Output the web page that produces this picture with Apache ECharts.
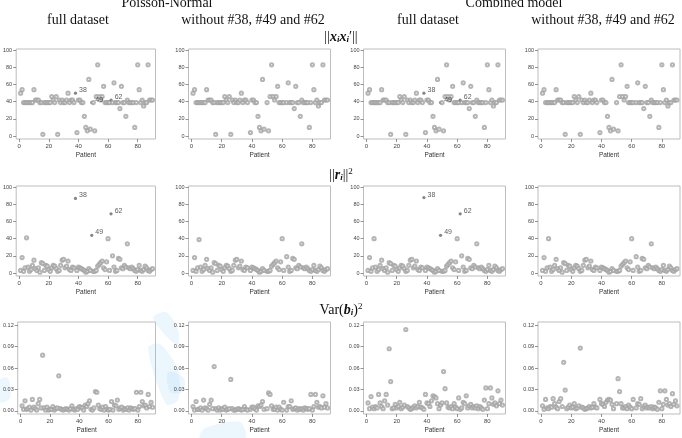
<!DOCTYPE html>
<html><head><meta charset="utf-8">
<script src="https://cdn.jsdelivr.net/npm/echarts@6/dist/echarts.min.js"></script>
<style>html,body{margin:0;padding:0;background:#fff}#c{width:682px;height:438px}</style>
</head><body><div id="c"></div>
<script>
// ---- data (patients 1..90) ----
const xTicks = [0, 20, 40, 60, 80];
const yTicks100 = [0, 20, 40, 60, 80, 100];
const yTicksVar = [0, 0.03, 0.06, 0.09, 0.12];
const labeledPatients = [38, 49, 62];
const colTitles = ['full dataset', 'without #38, #49 and #62', 'full dataset', 'without #38, #49 and #62'];
const modelTitles = ['Poisson-Normal', 'Combined model'];

const leverageFull = [50,54,39,39,39,39,39,39,39,54, 42,42,42,39,39,2,39,39,39,39, 39,46,42,39,46,2,42,39,42,39,
 39,42,50,39,42,42,39,50,4,42, 42,39,39,23,10,6,66,8,39,39, 6,46,83,46,42,46,58,39,39,39,
 39,42,39,62,39,39,39,32,58,39, 39,23,42,39,39,39,39,10,39,83, 54,39,42,35,39,39,83,42,42,42];
const leverageWithout = [50,54,39,39,39,39,39,39,39,54, 42,42,42,39,39,2,39,39,39,39, 39,46,42,39,46,2,42,39,42,39,
 39,42,50,39,42,42,39,null,4,42, 42,39,39,23,10,6,66,8,null,39, 6,46,83,46,42,46,58,39,39,39,
 39,null,39,62,39,39,39,32,58,39, 39,23,42,39,39,39,39,10,39,83, 54,39,42,35,39,39,83,42,42,42];

const residPNFull = [3,18,2,6,41,7,2,4,9,15, 5,3,6,1,12,11,3,9,8,4, 2,6,9,8,5,2,3,9,15,16,
 6,8,14,4,3,7,6,87,3,7, 6,5,4,3,1,2,5,3,44,2, 2,3,8,10,12,14,6,4,13,40,
 3,69,20,7,2,3,17,16,6,5, 9,7,34,6,5,7,5,3,2,4, 9,3,2,4,8,6,3,2,4,5];
const residPNWithout = [3,18,2,6,39,7,2,4,9,16, 5,3,6,1,12,11,3,9,8,4, 2,6,9,8,5,2,3,9,15,16,
 6,8,14,4,3,7,6,null,3,7, 6,5,4,3,1,2,5,3,null,2, 2,3,8,10,12,14,6,4,13,40,
 3,null,19,7,2,3,17,16,6,5, 9,7,34,6,5,7,5,3,2,4, 9,3,2,4,8,6,3,2,4,5];
const residCMFull = [3,18,2,6,40,7,2,4,9,15, 5,3,6,1,12,11,3,9,8,4, 2,6,9,8,5,2,3,9,15,16,
 6,8,14,4,3,7,6,88,3,7, 6,5,4,3,1,2,5,3,44,2, 2,3,8,10,12,14,6,4,13,40,
 3,69,20,7,2,3,17,16,6,5, 9,7,34,6,5,7,5,3,2,4, 9,3,2,4,8,6,3,2,4,5];
const residCMWithout = [3,18,2,6,40,7,2,4,9,16, 5,3,6,1,12,11,3,9,8,4, 2,6,9,8,5,2,3,9,15,16,
 6,8,14,4,3,7,6,null,3,7, 6,5,4,3,1,2,5,3,null,2, 2,3,8,10,12,14,6,4,13,40,
 3,null,19,7,2,3,17,16,6,5, 9,7,34,6,5,7,5,3,2,4, 9,3,2,4,8,6,3,2,4,5];

const varPNFull = [.007,.002,.014,.002,.003,.005,.001,.016,.005,.003, .001,.010,.016,.004,.078,.004,.001,.005,.001,.002,
 .002,.006,.001,.003,.004,.049,.003,.002,.001,.002, .003,.002,.001,.003,.007,.002,.001,.003,.002,.006,
 .005,.004,.001,.008,.006,.010,.014,.002,.001,.004, .027,.026,.008,.003,.002,.005,.001,.006,.002,.001,
 .002,.013,.001,.008,.007,.015,.002,.004,.005,.001, .003,.002,.004,.001,.004,.003,.002,.003,.026,.001,
 .006,.026,.013,.007,.008,.004,.023,.006,.012,.005];
const varPNWithout = [.006,.001,.013,.002,.002,.004,.001,.015,.004,.003, .001,.009,.015,.003,.062,.003,.001,.004,.001,.003,
 .002,.005,.001,.002,.003,.044,.003,.001,.001,.002, .003,.002,.001,.002,.006,.002,.001,null,.002,.005,
 .005,.003,.001,.007,.006,.008,.013,.002,null,.003, .025,.023,.007,.002,.002,.005,.001,.005,.002,.001,
 .012,null,.001,.006,.006,.014,.002,.003,.004,.001, .003,.002,.003,.001,.004,.003,.002,.003,.023,.001,
 .006,.023,.012,.005,.006,.004,.021,.005,.010,.004];
const varCMFull = [.011,.003,.020,.005,.003,.006,.004,.023,.011,.006, .003,.014,.023,.008,.087,.041,.003,.004,.009,.004,
 .006,.012,.003,.005,.008,.114,.006,.004,.002,.003, .005,.007,.004,.006,.012,.005,.004,.002,.023,.011,
 .010,.006,.014,.021,.020,.018,.010,.003,.008,.011, .055,.031,.011,.005,.004,.006,.003,.010,.005,.003,
 .018,.002,.004,.012,.010,.021,.004,.007,.009,.004, .006,.004,.007,.003,.006,.004,.002,.015,.032,.003,
 .010,.032,.018,.009,.011,.007,.028,.010,.015,.008];
const varCMWithout = [.007,.002,.016,.004,.003,.006,.005,.017,.010,.005, .003,.013,.017,.006,.068,.029,.003,.005,.008,.004,
 .005,.010,.003,.004,.007,.088,.005,.004,.002,.003, .004,.006,.004,.005,.010,.005,.004,null,.016,.010,
 .009,.006,.012,.015,.016,.015,.009,.003,null,.010, .045,.027,.010,.004,.004,.006,.003,.008,.005,.003,
 .016,null,.004,.010,.009,.017,.003,.006,.008,.004, .005,.004,.006,.003,.005,.004,.002,.012,.028,.003,
 .009,.028,.016,.008,.010,.006,.024,.009,.014,.007];

const rows = [
  {series: [leverageFull, leverageWithout, leverageFull, leverageWithout], labeled: [true,false,true,false], ticks: yTicks100, min: -3.5, max: 101.5, dec: 0},
  {series: [residPNFull, residPNWithout, residCMFull, residCMWithout], labeled: [true,false,true,false], ticks: yTicks100, min: -3.5, max: 101.5, dec: 0},
  {series: [varPNFull, varPNWithout, varCMFull, varCMWithout], labeled: [false,false,false,false], ticks: yTicksVar, min: -0.0045, max: 0.1245, dec: 2}
];

// ---- layout ----
const colLeft = [13.5, 188.5, 363.5, 538];
const gridW = 142;
const rowTop = [49, 186, 322];
const rowH = [90, 90, 92];

const grids = [], xAxes = [], yAxes = [], series = [];
rows.forEach((row, r) => {
  row.series.forEach((vals, c) => {
    const gi = grids.length;
    grids.push({left: colLeft[c], top: rowTop[r], width: gridW, height: rowH[r], show: true,
      borderColor: '#bdbdbd', borderWidth: 1, backgroundColor: 'transparent'});
    xAxes.push({type: 'value', gridIndex: gi, min: -2, max: 92,
      axisLine: {show: false, onZero: false},
      axisTick: {show: true, customValues: xTicks, length: 3, lineStyle: {color: '#777', width: 0.8}},
      axisLabel: {customValues: xTicks, fontSize: 6, color: '#444', margin: 4, fontFamily: 'Liberation Sans'},
      splitLine: {show: false},
      name: 'Patient', nameLocation: 'middle', nameGap: 13,
      nameTextStyle: {fontSize: 6.5, color: '#333', fontFamily: 'Liberation Sans'}});
    yAxes.push({type: 'value', gridIndex: gi, min: row.min, max: row.max,
      axisLine: {show: false, onZero: false},
      axisTick: {show: true, customValues: row.ticks, length: 3, lineStyle: {color: '#777', width: 0.8}},
      axisLabel: {customValues: row.ticks, fontSize: 5.5, color: '#444', margin: 4, fontFamily: 'Liberation Sans',
        formatter: v => v.toFixed(row.dec)},
      splitLine: {show: false}});
    const data = [];
    vals.forEach((v, i) => {
      if (v === null) return;
      const p = i + 1;
      if (row.labeled[c] && labeledPatients.includes(p)) {
        data.push({value: [p, v], symbol: 'circle', symbolSize: 3.2,
          itemStyle: {color: '#666', borderWidth: 0},
          label: {show: true, formatter: String(p), position: 'right', distance: 2, offset: [0, -3],
            fontSize: 7, color: '#333', fontFamily: 'Liberation Sans'}});
      } else {
        data.push([p, v]);
      }
    });
    series.push({type: 'scatter', xAxisIndex: gi, yAxisIndex: gi, data: data, z: 3,
      symbol: 'emptyCircle', symbolSize: 3.2, silent: true, animation: false,
      itemStyle: {color: '#a3a3a3', borderColor: '#a3a3a3', borderWidth: 0.6}});
  });
});

// ---- titles ----
const serif = 'Liberation Serif';
const txt = (text, x, y, size, rich) => ({type: 'text', x: x, y: y, silent: true, z: 10,
  style: {text: text, fontFamily: serif, fontSize: size, fill: '#111', align: 'center', verticalAlign: 'middle', rich: rich}});
const mathRich = {
  b: {fontFamily: serif, fontSize: 14, fontWeight: 'bold', fontStyle: 'italic', fill: '#111'},
  s: {fontFamily: serif, fontSize: 9, fontWeight: 'bold', fontStyle: 'italic', fill: '#111', verticalAlign: 'bottom', padding: [5, 0, 0, 0]},
  n: {fontFamily: serif, fontSize: 14, fill: '#111'},
  p: {fontFamily: serif, fontSize: 9, fill: '#111', padding: [0, 0, 6, 0]}
};
// faint watermark behind the lower-left panels
const wm = (pts) => ({type: 'polygon', silent: true, z: -10, shape: {points: pts, smooth: 0.3},
  style: {fill: 'rgba(170,215,245,0.22)'}});
const graphics = [
  wm([[153, 318], [166, 312], [178, 330], [178, 345], [168, 338]]),
  wm([[148, 348], [160, 344], [178, 370], [178, 400], [166, 404]]),
  wm([[168, 372], [184, 378], [182, 392], [170, 392]]),
  wm([[205, 428], [240, 422], [245, 438], [200, 438]]),
  wm([[0, 380], [8, 378], [10, 398], [0, 402]]),
  txt(modelTitles[0], 167, 3, 14),
  txt(modelTitles[1], 514, 3, 14),
  txt(colTitles[0], 78, 20, 14),
  txt(colTitles[1], 253, 20, 14),
  txt(colTitles[2], 428, 20, 14),
  txt(colTitles[3], 603, 20, 14),
  txt('{n|||}{b|x}{s|i}{b|x}{s|i}{n|′||}', 341, 37, 14, mathRich),
  txt('{n|||}{b|r}{s|i}{n|||}{p|2}', 341, 175, 14, mathRich),
  txt('{n|Var(}{b|b}{s|i}{n|)}{p|2}', 341, 310, 14, mathRich)
];

const chart = echarts.init(document.getElementById('c'), null, {renderer: 'canvas'});
chart.setOption({animation: false, grid: grids, xAxis: xAxes, yAxis: yAxes, series: series, graphic: graphics});
</script></body></html>
